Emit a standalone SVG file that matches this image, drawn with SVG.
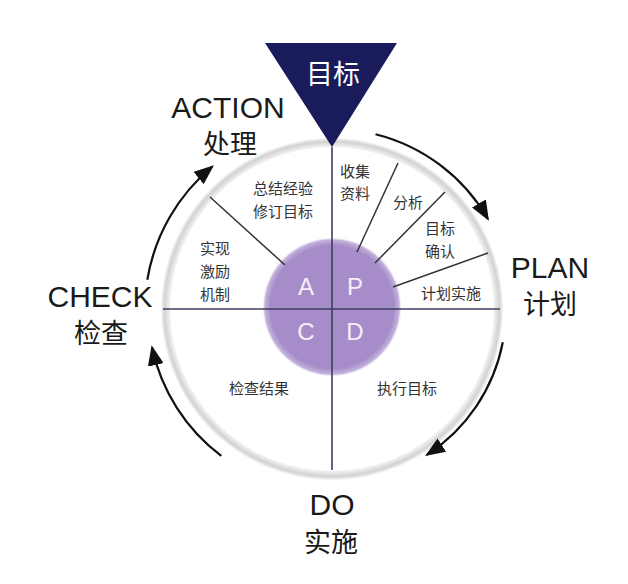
<svg xmlns="http://www.w3.org/2000/svg" width="628" height="584" viewBox="0 0 628 584">
<defs>
<radialGradient id="rim" cx="332" cy="309" r="171" gradientUnits="userSpaceOnUse">
<stop offset="0.92" stop-color="#ffffff"/>
<stop offset="0.955" stop-color="#ececec"/>
<stop offset="0.98" stop-color="#d2d2d2"/>
<stop offset="1" stop-color="#f6f6f6"/>
</radialGradient>
<radialGradient id="core" cx="332" cy="307" r="70" gradientUnits="userSpaceOnUse">
<stop offset="0.88" stop-color="#a68dc9"/>
<stop offset="0.96" stop-color="#c4b3dc"/>
<stop offset="1" stop-color="#ffffff" stop-opacity="0"/>
</radialGradient>
<marker id="ah" viewBox="0 0 20 16" refX="18" refY="8" markerWidth="20" markerHeight="16" markerUnits="userSpaceOnUse" orient="auto">
<path d="M0,0 L20,8 L0,16 Z" fill="#111"/>
</marker>
<style>
.lbl{font-family:"Liberation Sans","Noto Sans CJK SC",sans-serif;fill:#1a1a1a;text-anchor:middle}
.en{font-size:30px}
.zh{font-size:27px}
.seg{font-family:"Noto Sans CJK SC","Liberation Sans",sans-serif;font-size:15px;fill:#333;text-anchor:middle}
.ltr{font-family:"Liberation Sans",sans-serif;font-size:24px;fill:#f6eef8;text-anchor:middle}
.div{stroke:#333;stroke-width:1.5;fill:none}
.axis{stroke:#3d3d5c;stroke-width:1.6;fill:none}
.arc{stroke:#111;stroke-width:2.2;fill:none;marker-end:url(#ah)}
</style>
</defs>
<rect width="628" height="584" fill="#ffffff"/>

<g id="wheel">
<circle cx="332" cy="309" r="171" fill="url(#rim)"/>
<circle cx="332" cy="309" r="162" fill="#ffffff"/>
<circle cx="332" cy="307" r="70" fill="url(#core)"/>
<line class="axis" x1="163" y1="309" x2="500" y2="309"/>
<line class="axis" x1="332" y1="147" x2="332" y2="470"/>
<line class="div" x1="210" y1="197" x2="285" y2="265"/>
<line class="div" x1="398" y1="163" x2="357" y2="252"/>
<line class="div" x1="445" y1="192" x2="375" y2="263"/>
<line class="div" x1="488" y1="253" x2="393" y2="287"/>
</g>

<g id="core-letters">
<text class="ltr" x="306" y="295">A</text>
<text class="ltr" x="355" y="295">P</text>
<text class="ltr" x="306" y="340">C</text>
<text class="ltr" x="355" y="340">D</text>
</g>

<g id="seg-collect"><text class="seg" x="355" y="177">收集</text><text class="seg" x="355" y="199">资料</text></g>
<g id="seg-analyze"><text class="seg" x="408" y="208">分析</text></g>
<g id="seg-confirm"><text class="seg" x="440" y="234">目标</text><text class="seg" x="440" y="257">确认</text></g>
<g id="seg-plan"><text class="seg" x="451" y="299">计划实施</text></g>
<g id="seg-summary"><text class="seg" x="283" y="194">总结经验</text><text class="seg" x="283" y="217">修订目标</text></g>
<g id="seg-incentive"><text class="seg" x="215" y="254">实现</text><text class="seg" x="215" y="277">激励</text><text class="seg" x="215" y="300">机制</text></g>
<g id="seg-check"><text class="seg" x="259" y="394">检查结果</text></g>
<g id="seg-do"><text class="seg" x="407" y="394">执行目标</text></g>

<g id="goal">
<path d="M265,43 L397,43 L332,147 Z" fill="#191b5a"/>
<text class="lbl zh" x="333" y="84" style="fill:#ffffff">目标</text>
</g>

<g id="action"><text class="lbl en" x="228" y="118">ACTION</text><text class="lbl zh" x="230" y="154">处理</text></g>
<g id="check"><text class="lbl en" x="100" y="307">CHECK</text><text class="lbl zh" x="101" y="343">检查</text></g>
<g id="plan"><text class="lbl en" x="550" y="278">PLAN</text><text class="lbl zh" x="550" y="314">计划</text></g>
<g id="do"><text class="lbl en" x="332" y="515">DO</text><text class="lbl zh" x="331" y="552">实施</text></g>

<g id="connectors">
<path class="arc" d="M375.5,134.3 A180,180 0 0 1 487.9,219"/>
<path class="arc" d="M502.8,342.2 A174,174 0 0 1 426.8,454.9"/>
<path class="arc" d="M221.3,455.9 A184,184 0 0 1 152,347.3"/>
<path class="arc" d="M147.3,279.8 A187,187 0 0 1 212.4,166.5"/>
</g>
</svg>
